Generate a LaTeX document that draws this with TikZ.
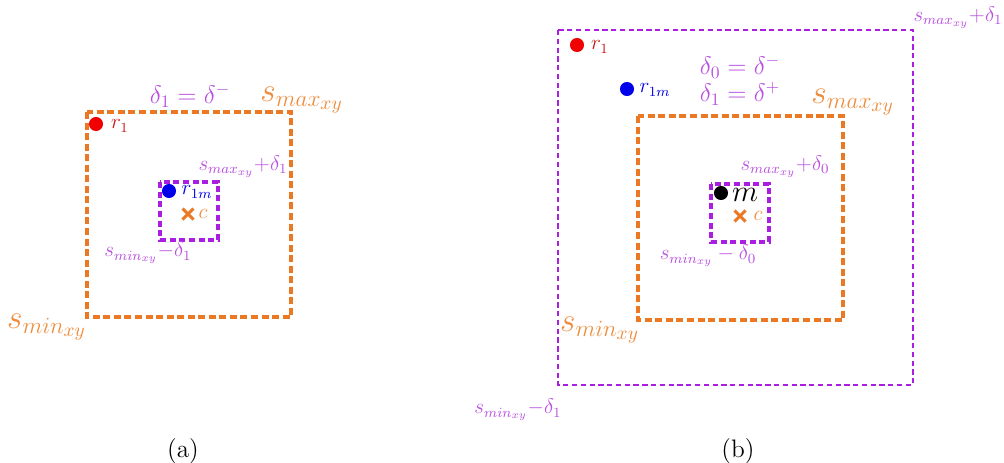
\documentclass[tikz,border=0pt]{standalone}
\usepackage{amsmath}
\usepackage{amssymb}
\usepackage{xcolor}
\definecolor{boxorange}{RGB}{235,120,35}
\definecolor{boxpurple}{RGB}{170,30,225}
\definecolor{textorange}{RGB}{238,140,60}
\definecolor{textpurple}{RGB}{185,80,225}
\definecolor{dotred}{RGB}{240,0,0}
\definecolor{textred}{RGB}{205,20,20}
\definecolor{dotblue}{RGB}{0,0,235}

\begin{document}
\begin{tikzpicture}[x=0.02cm,y=-0.02cm,
  obox/.style={boxorange,line width=2pt,dash pattern=on 4pt off 2pt},
  pbox/.style={boxpurple,line width=2pt,dash pattern=on 3.5pt off 2pt},
  pthin/.style={boxpurple,line width=1.3pt,dash pattern=on 3pt off 2pt},
  dot/.style={circle,inner sep=0pt,minimum size=8pt},
  cross/.style={boxorange,line width=1.8pt},
  olabel/.style={text=textorange,font=\LARGE,scale=1.1},
  plabel/.style={text=textpurple,font=\large},
  dlabel/.style={text=textpurple,font=\Large}]
  \useasboundingbox (0,0) rectangle (1004,463);

  % (a)
  \draw[obox] (87,112) rectangle (291,317);
  \draw[pbox] (160,182) rectangle (218,240);
  \node[dot,fill=dotred] (ra) at (96,124) {};
  \node[text=textred,font=\large] (rla) at (120,126) {$r_1$};
  \node[dot,fill=dotblue] (rma) at (169,191) {};
  \node[text=dotblue,font=\large] (rmla) at (197,192) {$r_{1m}$};
  \draw[cross] (188,214) +(-5.5,-5.5) -- +(5.5,5.5) +(-5.5,5.5) -- +(5.5,-5.5);
  \node[text=textorange,font=\large] (ca) at (203,214) {$c$};
  \node[dlabel] (da) at (190,96) {$\delta_1 = \delta^-$};
  \node[olabel] (smaxa) at (302,100) {$s_{max_{xy}}$};
  \node[olabel] (smina) at (47,327) {$s_{min_{xy}}$};
  \node[plabel] (pmaxa) at (243,167) {$s_{max_{xy}}{+}\delta_1$};
  \node[plabel] (pmina) at (148,253) {$s_{min_{xy}}{-}\delta_1$};
  \node[font=\Large] (capa) at (183,451) {(a)};

  % (b)
  \draw[pthin] (558,30) rectangle (913,385);
  \draw[obox] (638,116) rectangle (843,320);
  \draw[pbox] (711,184) rectangle (769,242);
  \node[dot,fill=dotred] (rb) at (577,45) {};
  \node[text=textred,font=\large] (rlb) at (600,47) {$r_1$};
  \node[dot,fill=dotblue] (rmb) at (627,89) {};
  \node[text=dotblue,font=\large] (rmlb) at (655,90) {$r_{1m}$};
  \node[dot,fill=black] (mb) at (721,193) {};
  \node[font=\LARGE] (mlb) at (745,195) {$m$};
  \draw[cross] (740,216) +(-5.5,-5.5) -- +(5.5,5.5) +(-5.5,5.5) -- +(5.5,-5.5);
  \node[text=textorange,font=\large] (cb) at (758,216) {$c$};
  \node[dlabel] (d0b) at (740,67) {$\delta_0 = \delta^-$};
  \node[dlabel] (d1b) at (740,94) {$\delta_1 = \delta^+$};
  \node[olabel] (smaxb) at (853,102) {$s_{max_{xy}}$};
  \node[olabel] (sminb) at (600,330) {$s_{min_{xy}}$};
  \node[plabel] (pmaxb) at (958,18) {$s_{max_{xy}}{+}\delta_1$};
  \node[plabel] (pmaxib) at (785,167) {$s_{max_{xy}}{+}\delta_0$};
  \node[plabel] (pminib) at (708,256) {$s_{min_{xy}} - \delta_0$};
  \node[plabel] (pminb) at (518,410) {$s_{min_{xy}}{-}\delta_1$};
  \node[font=\Large] (capb) at (738,451) {(b)};
\end{tikzpicture}
\end{document}
